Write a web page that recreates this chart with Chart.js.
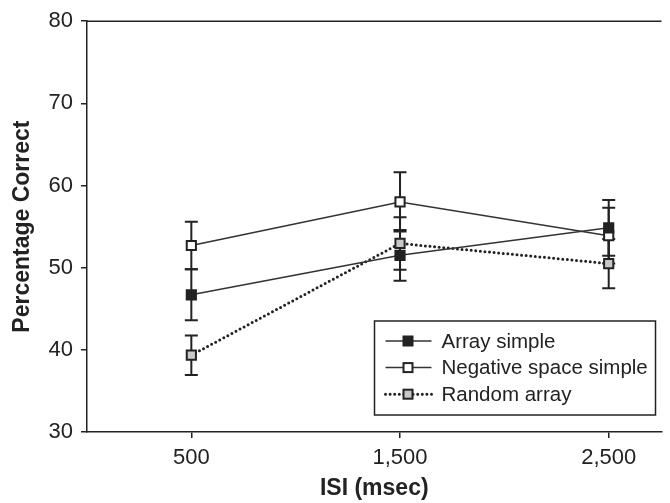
<html>
<script src="https://cdn.jsdelivr.net/npm/chart.js@4.4.0/dist/chart.umd.min.js"></script>
<style>
  body { margin: 0; background: #fff; }
</style>

<body>
  <canvas id="isiChart" width="670" height="503"></canvas>
</body>

<script>
  // data
  var isiValues = [500, 1500, 2500];
  var isiLabels = ['500', '1,500', '2,500'];
  var yTicks = [30, 40, 50, 60, 70, 80];

  var seriesNames = ['Array simple', 'Negative space simple', 'Random array'];
  var arraySimple = [46.7, 51.5, 54.85];
  var arraySimpleErr = [3.1, 3.1, 3.4];
  var negativeSpace = [52.7, 58.0, 53.9];
  var negativeSpaceErr = [2.9, 3.6, 3.4];
  var randomArray = [39.35, 52.95, 50.5];
  var randomArrayErr = [2.4, 3.2, 3.0];

  var ink = '#222';
  var fontFamily = "'Liberation Sans', Arial, Helvetica, sans-serif";

  function toPoints(vals) {
    return vals.map(function (v, i) { return { x: isiValues[i], y: v }; });
  }

  // error bars drawn under the markers
  var errorBars = {
    id: 'errorBars',
    beforeDatasetsDraw: function (chart) {
      var ctx = chart.ctx;
      var xs = chart.scales.x, ys = chart.scales.y;
      ctx.save();
      ctx.strokeStyle = ink;
      ctx.lineWidth = 2;
      chart.data.datasets.forEach(function (ds) {
        ds.data.forEach(function (p, i) {
          var x = xs.getPixelForValue(p.x);
          var top = ys.getPixelForValue(p.y + ds.errors[i]);
          var bot = ys.getPixelForValue(p.y - ds.errors[i]);
          ctx.beginPath();
          ctx.moveTo(x, top); ctx.lineTo(x, bot);
          ctx.moveTo(x - 6.5, top); ctx.lineTo(x + 6.5, top);
          ctx.moveTo(x - 6.5, bot); ctx.lineTo(x + 6.5, bot);
          ctx.stroke();
        });
      });
      ctx.restore();
    }
  };

  // top frame line + boxed legend inside the plot, bottom right
  var boxLegend = {
    id: 'boxLegend',
    afterDraw: function (chart) {
      var ctx = chart.ctx;
      var area = chart.chartArea;
      ctx.save();
      ctx.strokeStyle = ink;
      ctx.lineWidth = 1.5;
      ctx.beginPath();
      ctx.moveTo(area.left, area.top); ctx.lineTo(area.right, area.top);
      ctx.stroke();

      var boxW = 281, boxH = 94;
      var bx = area.right - 6 - boxW;
      var by = area.bottom - 17 - boxH;
      ctx.fillStyle = '#fff';
      ctx.fillRect(bx, by, boxW, boxH);
      ctx.strokeRect(bx, by, boxW, boxH);
      ctx.font = '20.5px ' + fontFamily;
      ctx.textBaseline = 'middle';
      chart.data.datasets.forEach(function (ds, i) {
        var cy = by + 20 + i * 26.6;
        ctx.strokeStyle = ds.borderColor;
        ctx.lineWidth = ds.borderWidth;
        ctx.lineCap = ds.borderCapStyle || 'butt';
        ctx.setLineDash(ds.borderDash || []);
        ctx.beginPath();
        ctx.moveTo(bx + 11, cy); ctx.lineTo(bx + 57, cy);
        ctx.stroke();
        ctx.setLineDash([]);
        ctx.lineCap = 'butt';
        ctx.fillStyle = ds.pointBackgroundColor;
        ctx.fillRect(bx + 29, cy - 4.5, 9, 9);
        ctx.strokeStyle = ink;
        ctx.lineWidth = 2;
        ctx.strokeRect(bx + 29, cy - 4.5, 9, 9);
        ctx.fillStyle = ink;
        ctx.fillText(ds.label, bx + 67, cy + 1);
      });
      ctx.restore();
    }
  };

  function series(label, vals, errs, fill, dotted) {
    return {
      label: label,
      data: toPoints(vals),
      errors: errs,
      borderColor: dotted ? ink : '#333',
      borderWidth: dotted ? 3 : 1.5,
      borderDash: dotted ? [0, 4.6] : [],
      borderCapStyle: dotted ? 'round' : 'butt',
      pointStyle: 'rect',
      pointRadius: 6.5,
      pointBorderWidth: 2,
      pointBorderColor: ink,
      pointBackgroundColor: fill,
      tension: 0
    };
  }

  var isiChart = new Chart(document.getElementById('isiChart'), {
    type: 'line',
    data: {
      datasets: [
        series(seriesNames[0], arraySimple, arraySimpleErr, '#222', false),
        series(seriesNames[1], negativeSpace, negativeSpaceErr, '#fff', false),
        series(seriesNames[2], randomArray, randomArrayErr, '#c8c8c8', true)
      ]
    },
    options: {
      responsive: false,
      animation: false,
      devicePixelRatio: 1,
      layout: { padding: { top: 16, left: 0, right: 0, bottom: 0 } },
      plugins: { legend: { display: false }, tooltip: { enabled: false } },
      scales: {
        x: {
          type: 'linear',
          min: 0,
          max: 2753,
          afterBuildTicks: function (scale) {
            scale.ticks = isiValues.map(function (v) { return { value: v }; });
          },
          afterFit: function (scale) { scale.height = 71; },
          ticks: {
            color: ink,
            padding: 7,
            font: { family: fontFamily, size: 22 },
            callback: function (v, i) { return isiLabels[i]; }
          },
          grid: { display: true, drawOnChartArea: false, tickLength: 6, color: ink, lineWidth: 1.5 },
          border: { display: true, color: ink, width: 1.5 },
          title: {
            display: true, text: 'ISI (msec)', color: ink,
            font: { family: fontFamily, size: 23, weight: 'bold' },
            padding: { top: 0, bottom: 1 }
          }
        },
        y: {
          min: yTicks[0],
          max: yTicks[yTicks.length - 1],
          afterBuildTicks: function (scale) {
            scale.ticks = yTicks.map(function (v) { return { value: v }; });
          },
          afterFit: function (scale) { scale.width = 87; },
          ticks: {
            color: ink,
            padding: 8,
            font: { family: fontFamily, size: 22 }
          },
          grid: { display: true, drawOnChartArea: false, tickLength: 6, color: ink, lineWidth: 1.5 },
          border: { display: true, color: ink, width: 1.5 },
          title: {
            display: true, text: 'Percentage Correct', color: ink,
            font: { family: fontFamily, size: 23, weight: 'bold' },
            padding: { top: 9, bottom: 0 }
          }
        }
      }
    },
    plugins: [errorBars, boxLegend]
  });
</script>

</html>
